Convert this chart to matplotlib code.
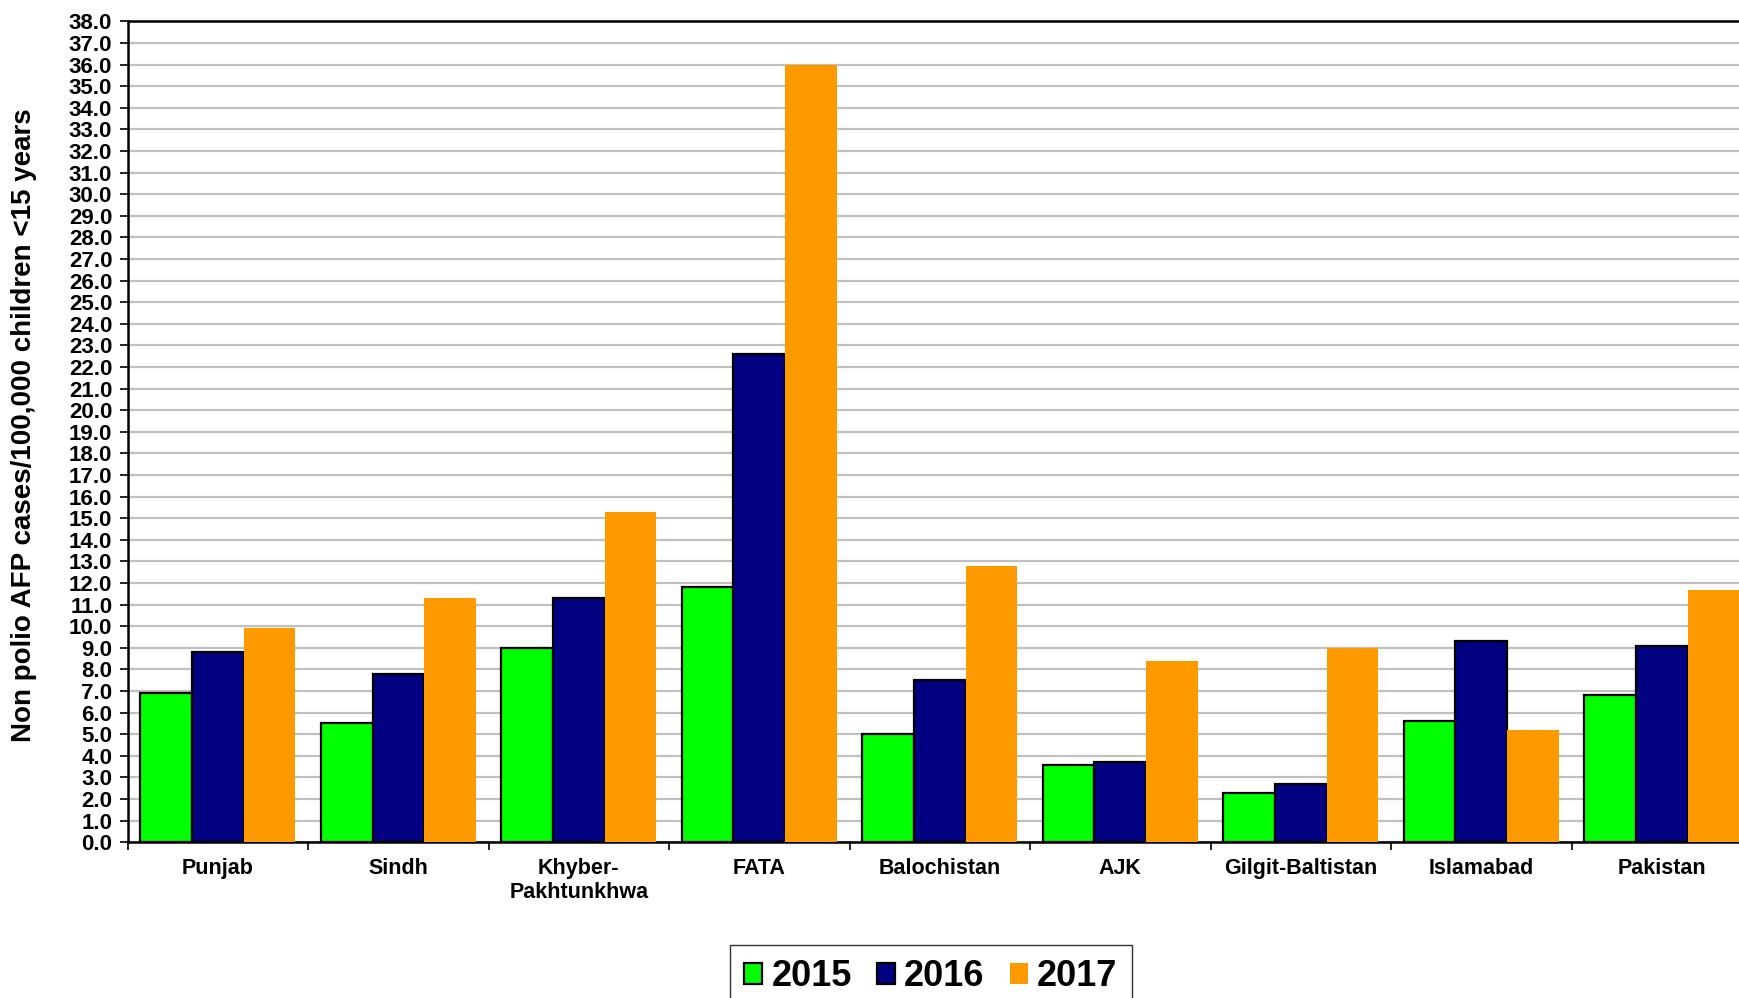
import matplotlib
matplotlib.use('Agg')

import matplotlib.pyplot as plt
import numpy as np

plt.rcParams['font.family'] = ['Liberation Sans', 'DejaVu Sans']
plt.rcParams['font.weight'] = 'bold'

# Datos
regiones = ['Punjab', 'Sindh', 'Khyber-\nPakhtunkhwa', 'FATA', 'Balochistan',
            'AJK', 'Gilgit-Baltistan', 'Islamabad', 'Pakistan']
anios = ['2015', '2016', '2017']
v2015 = [6.9, 5.5, 9.0, 11.8, 5.0, 3.6, 2.3, 5.6, 6.8]
v2016 = [8.8, 7.8, 11.3, 22.6, 7.5, 3.7, 2.7, 9.3, 9.1]
v2017 = [9.9, 11.3, 15.3, 36.0, 12.8, 8.4, 9.0, 5.2, 11.7]
yticks = np.arange(0, 39, 1)

colores = ['#00FF00', '#000080', '#FF9900']
bordes = ['black', 'black', 'none']

fig = plt.figure(figsize=(17.4, 9.98), dpi=100)
ax = fig.add_axes([0.0733, 0.156, 0.9336, 0.8226])

x = np.arange(len(regiones))
ancho = 1 / 3.5
for i, (serie, anio) in enumerate(zip([v2015, v2016, v2017], anios)):
    ax.bar(x + (i - 1) * ancho, serie, width=ancho, color=colores[i],
           edgecolor=bordes[i], linewidth=1.6, label=anio, zorder=3)

ax.set_xlim(-0.5, len(regiones) - 0.5)
ax.set_ylim(0, 38)
ax.set_yticks(yticks)
ax.set_yticklabels([f'{v:.1f}' for v in yticks], fontsize=16, fontweight='bold')
ax.yaxis.grid(True, color='#C0C0C0', linewidth=1.6, zorder=0)
ax.set_axisbelow(True)

# ticks en los limites de categoria, etiquetas en el centro
ax.set_xticks(np.arange(-0.5, len(regiones), 1))
ax.set_xticklabels([])
ax.set_xticks(x, minor=True)
ax.set_xticklabels(regiones, minor=True, fontsize=15.5, fontweight='bold')
ax.tick_params(axis='x', which='minor', length=0, pad=11)
ax.tick_params(axis='x', which='major', length=6, width=1.2)
ax.tick_params(axis='y', length=6, width=1.2, pad=5)

for lado in ['left', 'bottom', 'top']:
    ax.spines[lado].set_linewidth(1.8)
ax.spines['right'].set_visible(False)

ax.set_ylabel('Non polio AFP cases/100,000 children <15 years', fontsize=20,
              fontweight='bold')
ax.yaxis.set_label_coords(-0.0555, 0.508)

leg = fig.legend(loc='upper left', bbox_to_anchor=(0.4195, 0.0531), ncol=3,
                 fontsize=26, frameon=True, fancybox=False, edgecolor='black',
                 handlelength=0.5, handleheight=0.5, handletextpad=0.25,
                 columnspacing=0.7, borderpad=0.4, borderaxespad=0)
leg.get_frame().set_linewidth(1.0)
for t in leg.get_texts():
    t.set_fontweight('bold')

plt.savefig('out.png', dpi=100)
